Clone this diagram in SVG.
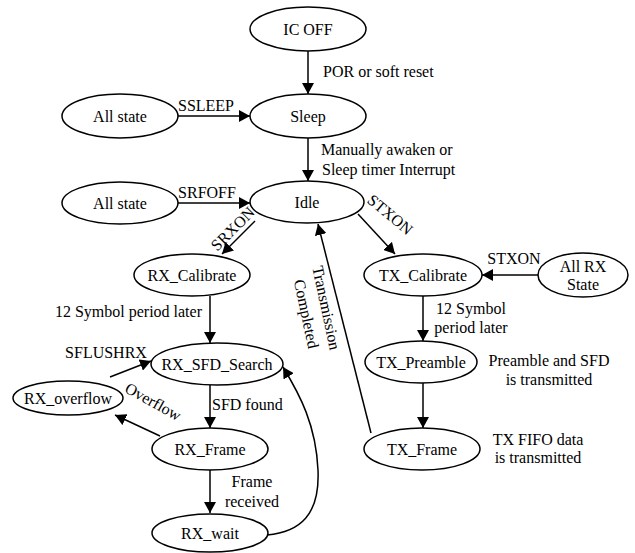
<svg xmlns="http://www.w3.org/2000/svg" width="635" height="553" viewBox="0 0 635 553">
<defs>
<style>
.n ellipse{fill:#fff;stroke:#000;stroke-width:1.5}
text{font-family:"Liberation Serif","Times New Roman",serif;font-size:16px;fill:#000}
.c{text-anchor:middle}
#edges path{fill:none;stroke:#000;stroke-width:1.5;marker-end:url(#ah)}
</style>
<marker id="ah" markerUnits="userSpaceOnUse" markerWidth="12" markerHeight="12" refX="11" refY="6" orient="auto">
<path d="M0,0 L11,6 L0,12 Z" fill="#000"/>
</marker>
</defs>
<rect width="635" height="553" fill="#fff"/>
<g id="edges">
<path d="M308,51 L308,94"/>
<path d="M308,138 L308,181"/>
<path d="M178,116 L250,116"/>
<path d="M178,203 L250,203"/>
<path d="M255,221 L222,254"/>
<path d="M358,214 L395,254"/>
<path d="M538,275 L482,275"/>
<path d="M210,296 L210,343"/>
<path d="M423,296 L423,341"/>
<path d="M210,385 L210,428"/>
<path d="M423,383 L423,428"/>
<path d="M210,470 L210,513"/>
<path d="M371,433 L318,224"/>
<path d="M110,377 L151,361"/>
<path d="M160,436 L115,415"/>
<path d="M267,535 C300,532 320,515 318,470 C316,425 300,395 283,367"/>
</g>
<g id="labels">
<text x="323" y="77">POR or soft reset</text>
<text x="321" y="155">Manually awaken or</text>
<text x="322" y="175">Sleep timer Interrupt</text>
<text class="c" x="206" y="111">SSLEEP</text>
<text class="c" x="207" y="198">SRFOFF</text>
<text class="c" transform="translate(233,229) rotate(-45)" y="5">SRXON</text>
<text class="c" transform="translate(390,215) rotate(40)" y="5">STXON</text>
<text class="c" x="514" y="264">STXON</text>
<text x="202" y="317" text-anchor="end">12 Symbol period later</text>
<text class="c" x="471" y="314">12 Symbol</text>
<text class="c" x="471" y="333">period later</text>
<text class="c" x="106" y="358">SFLUSHRX</text>
<text class="c" transform="translate(153,402) rotate(29)" y="5">Overflow</text>
<text x="212" y="410">SFD found</text>
<text class="c" x="252" y="487">Frame</text>
<text class="c" x="252" y="507">received</text>
<text class="c" transform="translate(326,308) rotate(78)" y="5">Transmission</text>
<text class="c" transform="translate(306,314) rotate(78)" y="5">Completed</text>
<text class="c" x="549" y="366">Preamble and SFD</text>
<text class="c" x="549" y="385">is transmitted</text>
<text class="c" x="538" y="445">TX FIFO data</text>
<text class="c" x="538" y="463">is transmitted</text>
</g>
<g id="ic_off" class="n"><ellipse cx="308" cy="29" rx="58" ry="22"/><text class="c" x="308" y="34.5">IC OFF</text></g>
<g id="sleep" class="n"><ellipse cx="308" cy="116" rx="58" ry="22"/><text class="c" x="308" y="121.5">Sleep</text></g>
<g id="all_state_1" class="n"><ellipse cx="120" cy="116" rx="58" ry="22"/><text class="c" x="120" y="121.5">All state</text></g>
<g id="idle" class="n"><ellipse cx="307" cy="202" rx="57" ry="21"/><text class="c" x="307" y="207.5">Idle</text></g>
<g id="all_state_2" class="n"><ellipse cx="120" cy="203" rx="58" ry="21"/><text class="c" x="120" y="208.5">All state</text></g>
<g id="rx_calibrate" class="n"><ellipse cx="192" cy="275" rx="58" ry="21"/><text class="c" x="192" y="280.5">RX_Calibrate</text></g>
<g id="tx_calibrate" class="n"><ellipse cx="423" cy="275" rx="59" ry="21"/><text class="c" x="423" y="280.5">TX_Calibrate</text></g>
<g id="all_rx_state" class="n"><ellipse cx="583" cy="275" rx="45" ry="22"/><text class="c" x="583" y="272">All RX</text><text class="c" x="583" y="290">State</text></g>
<g id="rx_sfd_search" class="n"><ellipse cx="217" cy="364" rx="66" ry="21"/><text class="c" x="217" y="369.5">RX_SFD_Search</text></g>
<g id="rx_overflow" class="n"><ellipse cx="68" cy="398" rx="55" ry="17"/><text class="c" x="68" y="403.5">RX_overflow</text></g>
<g id="tx_preamble" class="n"><ellipse cx="421" cy="362" rx="56" ry="21"/><text class="c" x="421" y="367.5">TX_Preamble</text></g>
<g id="rx_frame" class="n"><ellipse cx="210" cy="449" rx="58" ry="21"/><text class="c" x="210" y="454.5">RX_Frame</text></g>
<g id="tx_frame" class="n"><ellipse cx="422" cy="449" rx="58" ry="21"/><text class="c" x="422" y="454.5">TX_Frame</text></g>
<g id="rx_wait" class="n"><ellipse cx="210" cy="533" rx="58" ry="19"/><text class="c" x="210" y="538.5">RX_wait</text></g>
</svg>
